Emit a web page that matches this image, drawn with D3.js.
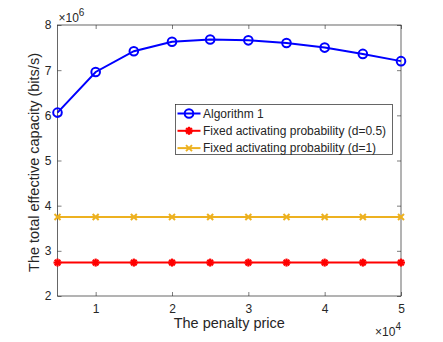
<!DOCTYPE html>
<html>
<head>
<meta charset="utf-8">
<script src="https://cdn.jsdelivr.net/npm/d3@7"></script>
<style>
  body { margin: 0; background: #fff; }
  svg text { font-family: "Liberation Sans", Arial, sans-serif; fill: #262626; }
</style>
</head>
<body>
<div id="chart"></div>
<script>
const penalty = [5000, 10000, 15000, 20000, 25000, 30000, 35000, 40000, 45000, 50000];
const algorithm1 = [6.06e6, 6.96e6, 7.42e6, 7.63e6, 7.68e6, 7.66e6, 7.60e6, 7.50e6, 7.36e6, 7.20e6];
const fixedHalf = [2.74e6, 2.74e6, 2.74e6, 2.74e6, 2.74e6, 2.74e6, 2.74e6, 2.74e6, 2.74e6, 2.74e6];
const fixedOne = [3.75e6, 3.75e6, 3.75e6, 3.75e6, 3.75e6, 3.75e6, 3.75e6, 3.75e6, 3.75e6, 3.75e6];
const xTicks = [10000, 20000, 30000, 40000, 50000];
const yTicks = [2e6, 3e6, 4e6, 5e6, 6e6, 7e6, 8e6];
const seriesNames = ['Algorithm 1', 'Fixed activating probability (d=0.5)', 'Fixed activating probability (d=1)'];

const width = 443, height = 342;
const margin = {left: 57.5, right: 42, top: 25, bottom: 46};
const axisColor = '#262626';

const svg = d3.select('#chart').append('svg')
  .attr('width', width)
  .attr('height', height);

const x = d3.scaleLinear()
  .domain([5000, 50000])
  .range([margin.left, width - margin.right]);

const y = d3.scaleLinear()
  .domain([2e6, 8e6])
  .range([height - margin.bottom, margin.top]);

const series = [
  {name: seriesNames[0], values: algorithm1, color: '#0000ff', marker: 'circle'},
  {name: seriesNames[1], values: fixedHalf, color: '#ff0000', marker: 'star'},
  {name: seriesNames[2], values: fixedOne, color: '#edb120', marker: 'cross'}
];

// axes with inward ticks
const gx = svg.append('g')
  .attr('transform', `translate(0,${y.range()[0]})`)
  .call(d3.axisBottom(x).tickValues(xTicks).tickSize(-4).tickSizeOuter(0).tickPadding(8)
    .tickFormat(d => d / 1e4));
const gxTop = svg.append('g')
  .attr('transform', `translate(0,${margin.top})`)
  .call(d3.axisTop(x).tickValues(xTicks).tickSize(-4).tickSizeOuter(0).tickFormat(''));
const gy = svg.append('g')
  .attr('transform', `translate(${margin.left},0)`)
  .call(d3.axisLeft(y).tickValues(yTicks).tickSize(-4).tickSizeOuter(0).tickPadding(6)
    .tickFormat(d => d / 1e6));
const gyRight = svg.append('g')
  .attr('transform', `translate(${x.range()[1]},0)`)
  .call(d3.axisRight(y).tickValues(yTicks).tickSize(-4).tickSizeOuter(0).tickFormat(''));

[gx, gxTop, gy, gyRight].forEach(g => {
  g.select('.domain').remove();
  g.selectAll('line').attr('stroke', axisColor).attr('stroke-width', 0.6);
  g.selectAll('text').style('font-size', '12px').attr('fill', axisColor);
});

// box
svg.append('rect')
  .attr('x', x.range()[0])
  .attr('y', y.range()[1])
  .attr('width', x.range()[1] - x.range()[0])
  .attr('height', y.range()[0] - y.range()[1])
  .attr('fill', 'none')
  .attr('stroke', axisColor)
  .attr('stroke-width', 0.7);

// exponent labels
const expTop = svg.append('text')
  .attr('x', margin.left + 1)
  .attr('y', 21.5)
  .style('font-size', '12px');
expTop.append('tspan').text('\u00d710');
expTop.append('tspan').attr('dy', -6).style('font-size', '10px').text('6');

const expBottom = svg.append('text')
  .attr('x', x.range()[1])
  .attr('y', 336)
  .attr('text-anchor', 'end')
  .style('font-size', '12px');
expBottom.append('tspan').text('\u00d710');
expBottom.append('tspan').attr('dy', -6).style('font-size', '10px').text('4');

// axis titles
svg.append('text')
  .attr('x', (x.range()[0] + x.range()[1]) / 2)
  .attr('y', 328)
  .attr('text-anchor', 'middle')
  .style('font-size', '14.5px')
  .text('The penalty price');

svg.append('text')
  .attr('transform', `translate(38.5,${(y.range()[0] + y.range()[1]) / 2 + 2}) rotate(-90)`)
  .attr('text-anchor', 'middle')
  .style('font-size', '14.5px')
  .text('The total effective capacity (bits/s)');

// marker drawing
const drawMarker = (g, type, color) => {
  if (type === 'circle') {
    g.append('circle').attr('r', 4.3)
      .attr('fill', 'none').attr('stroke', color).attr('stroke-width', 2);
  } else if (type === 'star') {
    const s = 4;
    [[-s, 0, s, 0], [0, -s, 0, s], [-s * 0.7, -s * 0.7, s * 0.7, s * 0.7], [-s * 0.7, s * 0.7, s * 0.7, -s * 0.7]]
      .forEach(l => g.append('line')
        .attr('x1', l[0]).attr('y1', l[1]).attr('x2', l[2]).attr('y2', l[3])
        .attr('stroke', color).attr('stroke-width', 2.2));
  } else {
    const s = 3;
    [[-s, -s, s, s], [-s, s, s, -s]]
      .forEach(l => g.append('line')
        .attr('x1', l[0]).attr('y1', l[1]).attr('x2', l[2]).attr('y2', l[3])
        .attr('stroke', color).attr('stroke-width', 2));
  }
};

const line = d3.line()
  .x(d => x(d[0]))
  .y(d => y(d[1]));

series.forEach(s => {
  const pts = penalty.map((p, i) => [p, s.values[i]]);
  svg.append('path')
    .datum(pts)
    .attr('d', line)
    .attr('fill', 'none')
    .attr('stroke', s.color)
    .attr('stroke-width', 2);
  pts.forEach(p => {
    const g = svg.append('g').attr('transform', `translate(${x(p[0])},${y(p[1])})`);
    drawMarker(g, s.marker, s.color);
  });
});

// legend
const legend = svg.append('g').attr('transform', 'translate(175.5,104.5)');
legend.append('rect')
  .attr('width', 217)
  .attr('height', 50)
  .attr('fill', '#fff')
  .attr('stroke', axisColor)
  .attr('stroke-width', 0.7);

series.forEach((s, i) => {
  const row = legend.append('g').attr('transform', `translate(0,${9 + i * 17.3})`);
  row.append('line')
    .attr('x1', 2).attr('x2', 25)
    .attr('stroke', s.color).attr('stroke-width', 2);
  drawMarker(row.append('g').attr('transform', 'translate(13.5,0)'), s.marker, s.color);
  row.append('text')
    .attr('x', 27.5)
    .attr('y', 4.3)
    .style('font-size', '12px')
    .text(s.name);
});
</script>
</body>
</html>
